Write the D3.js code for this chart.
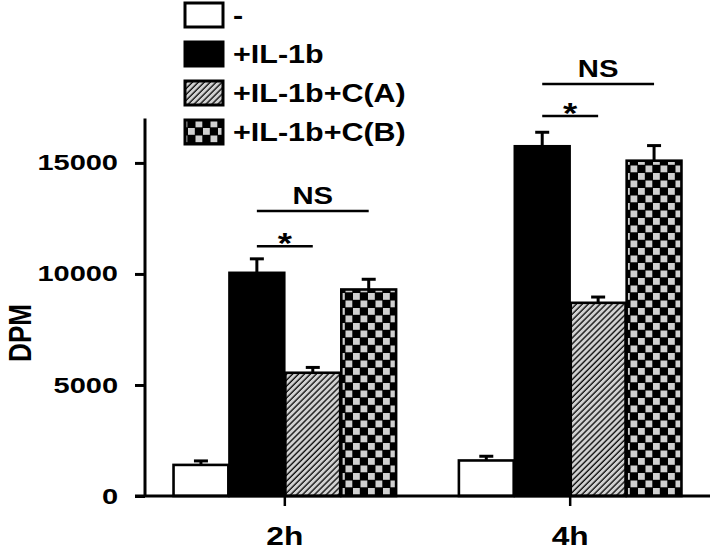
<!DOCTYPE html>
<html>
<head>
<meta charset="utf-8">
<script src="https://cdn.jsdelivr.net/npm/d3@7"></script>
<style>
  body { margin: 0; background: #fff; }
  text { font-family: "Liberation Sans", Arial, sans-serif; font-weight: bold; }
</style>
</head>
<body>
<script>
// data
const groups = ['2h', '4h'];
const series = ['-', '+IL-1b', '+IL-1b+C(A)', '+IL-1b+C(B)'];
const mean2h = [1400, 10050, 5550, 9300];
const mean4h = [1600, 15750, 8700, 15100];
const sem2h = [180, 630, 240, 460];
const sem4h = [190, 630, 260, 680];
const yTicks = [0, 5000, 10000, 15000];
const yMax = 17000;

// significance bars: group, from bar, to bar, label, height (DPM)
const sigGroup = ['2h', '2h', '4h', '4h'];
const sigFrom = [1, 1, 1, 1];
const sigTo = [2, 3, 2, 3];
const sigLabel = ['*', 'NS', '*', 'NS'];
const sigLevel = [11250, 12830, 17110, 18550];

const W = 720, H = 550;
const SX = 1.22; // text in the figure is a bit wide
const axisX = 145, axisY = 496;

const svg = d3.select('body').append('svg').attr('width', W).attr('height', H);

// patterns
const defs = svg.append('defs');
const hatch = defs.append('pattern').attr('id', 'hatch')
  .attr('patternUnits', 'userSpaceOnUse').attr('width', 4.2).attr('height', 4.2)
  .attr('patternTransform', 'rotate(45)');
hatch.append('rect').attr('width', 4.2).attr('height', 4.2).attr('fill', '#d2d2d2');
hatch.append('line').attr('x1', 1).attr('x2', 1).attr('y1', 0).attr('y2', 4.2)
  .attr('stroke', '#111').attr('stroke-width', 1.4);

const check = defs.append('pattern').attr('id', 'check')
  .attr('patternUnits', 'userSpaceOnUse').attr('width', 15).attr('height', 15);
check.append('rect').attr('width', 15).attr('height', 15).attr('fill', '#000');
check.append('rect').attr('x', 0.5).attr('y', 0.5).attr('width', 6.8).attr('height', 6.8).attr('fill', '#d0d0d0');
check.append('rect').attr('x', 8).attr('y', 8).attr('width', 6.8).attr('height', 6.8).attr('fill', '#d0d0d0');

const fills = ['#fff', '#000', 'url(#hatch)', 'url(#check)'];

// scales
const x0 = d3.scaleBand().domain(groups).range([axisX, 710]).paddingInner(0.22).paddingOuter(0.1);
const x1 = d3.scaleBand().domain(series).range([0, x0.bandwidth()]).paddingInner(0.02);
const y = d3.scaleLinear().domain([0, yMax]).range([axisY, 118.5]);

const table = [];
groups.forEach((g, gi) => {
  const m = gi === 0 ? mean2h : mean4h;
  const e = gi === 0 ? sem2h : sem4h;
  series.forEach((s, si) => table.push({ group: g, series: s, i: si, mean: m[si], sem: e[si] }));
});

// bars
const bars = svg.append('g');
bars.selectAll('rect').data(table).enter().append('rect')
  .attr('x', d => x0(d.group) + x1(d.series))
  .attr('y', d => y(d.mean))
  .attr('width', x1.bandwidth())
  .attr('height', d => y(0) - y(d.mean))
  .attr('fill', d => fills[d.i])
  .attr('stroke', '#000').attr('stroke-width', 2.6);

// error bars (upper only)
const eb = svg.append('g').attr('stroke', '#000').attr('stroke-width', 3);
eb.selectAll('line.v').data(table).enter().append('line').attr('class', 'v')
  .attr('x1', d => x0(d.group) + x1(d.series) + x1.bandwidth() / 2)
  .attr('x2', d => x0(d.group) + x1(d.series) + x1.bandwidth() / 2)
  .attr('y1', d => y(d.mean))
  .attr('y2', d => y(d.mean + d.sem));
eb.selectAll('line.c').data(table).enter().append('line').attr('class', 'c')
  .attr('x1', d => x0(d.group) + x1(d.series) + x1.bandwidth() / 2 - 7)
  .attr('x2', d => x0(d.group) + x1(d.series) + x1.bandwidth() / 2 + 7)
  .attr('y1', d => y(d.mean + d.sem))
  .attr('y2', d => y(d.mean + d.sem));

// axes
const yAxis = d3.axisLeft(y).tickValues(yTicks).tickFormat(d3.format('d')).tickSize(10).tickPadding(10.5);
const yAxisG = svg.append('g').attr('transform', `translate(${axisX},0)`).call(yAxis);
yAxisG.select('.domain').attr('d', `M0,${y(yMax)}V${axisY}`).attr('stroke-width', 3);
yAxisG.selectAll('.tick line').attr('stroke-width', 3);
yAxisG.selectAll('text').attr('font-size', 22).attr('font-family', null)
  .attr('transform', `scale(${SX * 1.08},1)`);

const xAxis = d3.axisBottom(x0).tickSize(10).tickSizeOuter(0);
const xAxisG = svg.append('g').attr('transform', `translate(0,${axisY})`).call(xAxis);
xAxisG.select('.domain').attr('d', `M${axisX - 10},0H710`).attr('stroke-width', 3);
xAxisG.selectAll('.tick line').attr('stroke-width', 2.5);
xAxisG.selectAll('text').attr('font-size', 26).attr('font-family', null)
  .attr('y', 49).attr('dy', 0).attr('transform', `scale(${SX},1)`);

svg.append('text').text('DPM')
  .attr('font-size', 26).attr('text-anchor', 'middle')
  .attr('transform', `translate(30.5,333) scale(${SX},1) rotate(-90)`);

// significance marks
const sig = svg.append('g');
sigLabel.forEach((lab, k) => {
  const g = sigGroup[k];
  const xa = x0(g) + x1(series[sigFrom[k]]) + x1.bandwidth() / 2;
  const xb = x0(g) + x1(series[sigTo[k]]) + x1.bandwidth() / 2;
  const yy = y(sigLevel[k]);
  sig.append('line').attr('x1', xa).attr('x2', xb).attr('y1', yy).attr('y2', yy)
    .attr('stroke', '#000').attr('stroke-width', 2.5);
  const star = lab === '*';
  sig.append('text').text(lab)
    .attr('text-anchor', 'middle')
    .attr('font-size', star ? 30 : 24)
    .attr('transform', `translate(${(xa + xb) / 2},${star ? yy + 7 : yy - 7}) scale(${SX},1)`);
});

// legend
const leg = svg.append('g');
series.forEach((s, i) => {
  const cy = 15 + i * 39;
  leg.append('rect').attr('x', 185).attr('y', cy - 12).attr('width', 38).attr('height', 24)
    .attr('fill', fills[i]).attr('stroke', '#000').attr('stroke-width', 3);
  leg.append('text').text(s).attr('font-size', 25)
    .attr('transform', `translate(233,${cy + 9}) scale(${SX},1)`);
});
</script>
</body>
</html>
